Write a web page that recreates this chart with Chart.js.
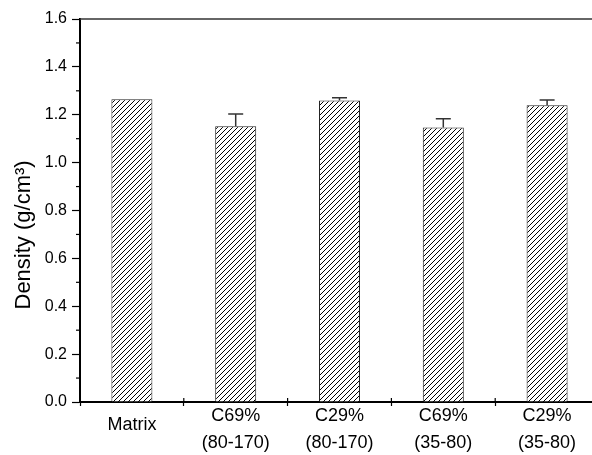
<!DOCTYPE html>
<html>
<head>
<meta charset="utf-8">
<script src="https://cdn.jsdelivr.net/npm/chart.js@4.4.0/dist/chart.umd.min.js"></script>
<style>
  html, body { margin: 0; padding: 0; background: #fff; overflow: hidden; }
  #wrap { width: 600px; height: 455px; }
</style>
</head>
<body>
<div id="wrap"><canvas id="densityChart" width="600" height="455"></canvas></div>
<script>
// data
const categories = ['Matrix', ['C69%', '(80-170)'], ['C29%', '(80-170)'], ['C69%', '(35-80)'], ['C29%', '(35-80)']];
const density = [1.265, 1.152, 1.260, 1.147, 1.240];
const densityErr = [0, 0.051, 0.011, 0.036, 0.022];
const yTicks = [0, 0.2, 0.4, 0.6, 0.8, 1.0, 1.2, 1.4, 1.6];
const yMinorTicks = [0.1, 0.3, 0.5, 0.7, 0.9, 1.1, 1.3, 1.5];

const FONT = "'Liberation Sans', Arial, Helvetica, sans-serif";

// diagonal hatch "/"
function makeHatch() {
  const c = document.createElement('canvas');
  c.width = 5; c.height = 5;
  const g = c.getContext('2d');
  g.fillStyle = '#fff';
  g.fillRect(0, 0, 5, 5);
  g.fillStyle = '#000';
  for (let i = 0; i < 5; i++) g.fillRect(i, 4 - i, 1, 1);
  return g.createPattern(c, 'repeat');
}

// error bars, frame top line, inward x ticks, minor y ticks
const extras = {
  id: 'extras',
  afterDatasetsDraw(chart) {
    const ctx = chart.ctx;
    const x = chart.scales.x, y = chart.scales.y;
    const area = chart.chartArea;
    const meta = chart.getDatasetMeta(0);
    ctx.save();

    // error bars (upper only)
    ctx.strokeStyle = '#333';
    ctx.lineWidth = 1.5;
    meta.data.forEach((bar, i) => {
      const e = densityErr[i];
      if (!e) return;
      const yTop = y.getPixelForValue(density[i] + e);
      const yBar = y.getPixelForValue(density[i]);
      ctx.beginPath();
      ctx.moveTo(bar.x, yBar);
      ctx.lineTo(bar.x, yTop);
      ctx.moveTo(bar.x - 7.5, yTop);
      ctx.lineTo(bar.x + 7.5, yTop);
      ctx.stroke();
    });

    // top frame line
    ctx.strokeStyle = '#333';
    ctx.lineWidth = 1.5;
    ctx.beginPath();
    ctx.moveTo(area.left, area.top);
    ctx.lineTo(chart.width, area.top);
    ctx.stroke();

    // x ticks poke up into the plot
    ctx.strokeStyle = '#000';
    ctx.lineWidth = 1.2;
    for (let i = 0; i <= categories.length; i++) {
      const px = x.getPixelForValue(i - 0.5);
      ctx.beginPath();
      ctx.moveTo(px, area.bottom);
      ctx.lineTo(px, area.bottom - 4);
      ctx.stroke();
    }

    // minor y ticks
    yMinorTicks.forEach(v => {
      const py = y.getPixelForValue(v);
      ctx.beginPath();
      ctx.moveTo(area.left, py);
      ctx.lineTo(area.left - 4, py);
      ctx.stroke();
    });
    ctx.restore();
  }
};

const ctx = document.getElementById('densityChart').getContext('2d');
new Chart(ctx, {
  type: 'bar',
  data: {
    labels: categories,
    datasets: [{
      data: density,
      backgroundColor: makeHatch(),
      borderColor: '#222',
      borderWidth: 1,
      barPercentage: 0.395,
      categoryPercentage: 1
    }]
  },
  options: {
    responsive: false,
    animation: false,
    layout: { padding: { top: 19, right: 1, left: 0, bottom: 0 } },
    plugins: { legend: { display: false }, tooltip: { enabled: false } },
    scales: {
      x: {
        grid: { display: true, drawOnChartArea: false, offset: true, tickLength: 4, tickColor: '#000', tickWidth: 1.2 },
        border: { display: true, color: '#000', width: 2 },
        ticks: {
          color: '#000',
          padding: -3,
          maxRotation: 0,
          autoSkip: false,
          font: (c) => ({
            family: FONT,
            size: 18,
            lineHeight: (c.tick && typeof c.tick.label === 'string') ? 2.5 : 1.5
          })
        },
        afterFit: (s) => { s.height = 53; }
      },
      y: {
        min: 0,
        max: 1.6,
        afterBuildTicks: (s) => { s.ticks = yTicks.map(v => ({ value: v })); },
        grid: { display: true, drawOnChartArea: false, tickLength: 8, tickColor: '#000', tickWidth: 1.2 },
        border: { display: true, color: '#000', width: 2 },
        ticks: {
          color: '#000',
          padding: 5,
          font: { family: FONT, size: 16 },
          callback: (v) => Number(v).toFixed(1)
        },
        title: {
          display: true,
          text: 'Density (g/cm\u00B3)        ',
          color: '#000',
          font: { family: FONT, size: 22 },
          padding: { top: 11, bottom: 0 }
        },
        afterFit: (s) => { s.width = 80; }
      }
    }
  },
  plugins: [extras]
});
</script>
</body>
</html>
